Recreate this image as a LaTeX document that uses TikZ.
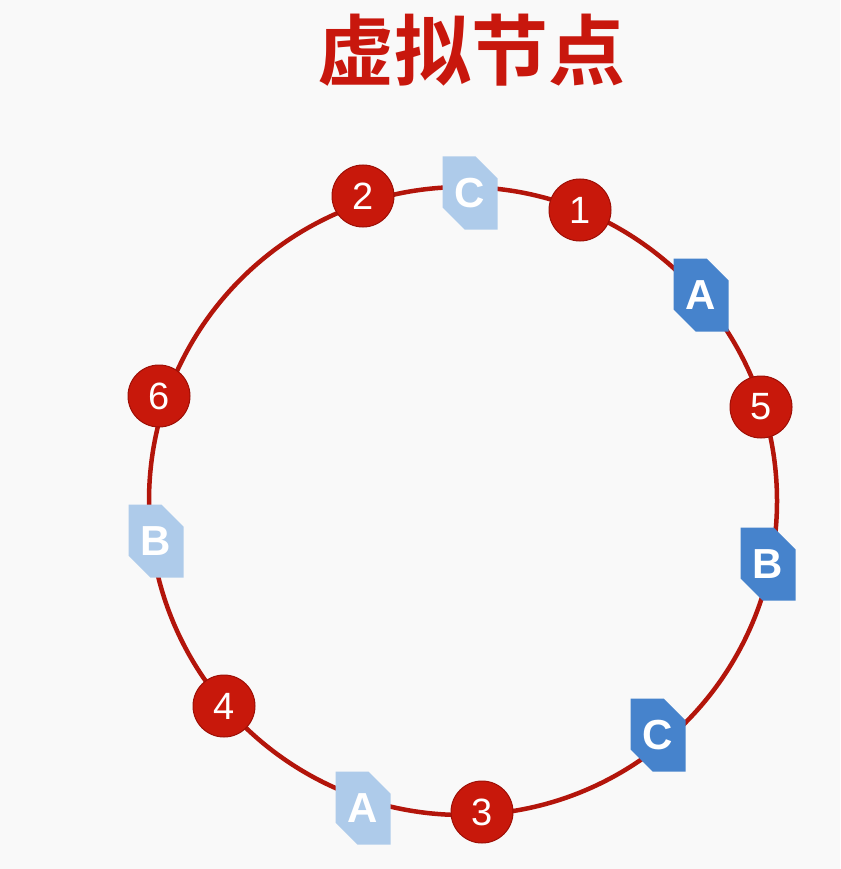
\documentclass[tikz,border=0pt]{standalone}
\usepackage{fontspec}
\setmainfont{Liberation Sans}
\newfontfamily\cjk{Noto Sans CJK SC}[BoldFont={* Bold}]
\usetikzlibrary{shapes.misc}
\definecolor{bgc}{HTML}{F9F9F9}
\definecolor{ringred}{HTML}{B3150B}
\definecolor{ballred}{HTML}{C8180B}
\definecolor{ballline}{HTML}{9E0F06}
\definecolor{titlered}{HTML}{C8170D}
\definecolor{darkblue}{HTML}{4683CC}
\definecolor{lightblue}{HTML}{AECBEA}
\tikzset{
  ball/.style={circle, fill=ballred, draw=ballline, line width=1pt, minimum size=62pt, inner sep=0pt,
    text=white, font=\fontsize{38}{38}\selectfont},
  vbox/.style={chamfered rectangle, chamfered rectangle corners={north east,south west},
    chamfered rectangle xsep=11pt, chamfered rectangle ysep=11pt,
    minimum width=55pt, minimum height=73pt, inner sep=0pt, text=white,
    font=\fontsize{42}{42}\selectfont\bfseries},
  realbox/.style={vbox, fill=darkblue},
  ghostbox/.style={vbox, fill=lightblue},
  ring/.style={draw=ringred, line width=4.5pt}
}
\begin{document}
\begin{tikzpicture}[x=1pt,y=-1pt]
\fill[bgc] (0,0) rectangle (840,869);
\useasboundingbox (0,0) rectangle (840,869);
\node[text=titlered, font=\cjk\bfseries\fontsize{77}{77}\selectfont] (title) at (471,50) {虚拟节点};
\coordinate (ctr) at (463,501);
\draw[ring] (ctr) circle[radius=314pt];
% real nodes
\node[ball] (n1) at (580,210) {1};
\node[ball] (n2) at (363,196) {2};
\node[ball] (n3) at (482,812) {3};
\node[ball] (n4) at (224,706) {4};
\node[ball] (n5) at (761,407) {5};
\node[ball] (n6) at (159,396) {6};
% virtual nodes
\node[ghostbox] (vc1) at (470,193) {C};
\node[realbox] (va1) at (701,295) {A};
\node[realbox] (vb1) at (768,564) {B};
\node[realbox] (vc2) at (658,735) {C};
\node[ghostbox] (va2) at (363,808) {A};
\node[ghostbox] (vb2) at (156,541) {B};
\end{tikzpicture}
\end{document}
